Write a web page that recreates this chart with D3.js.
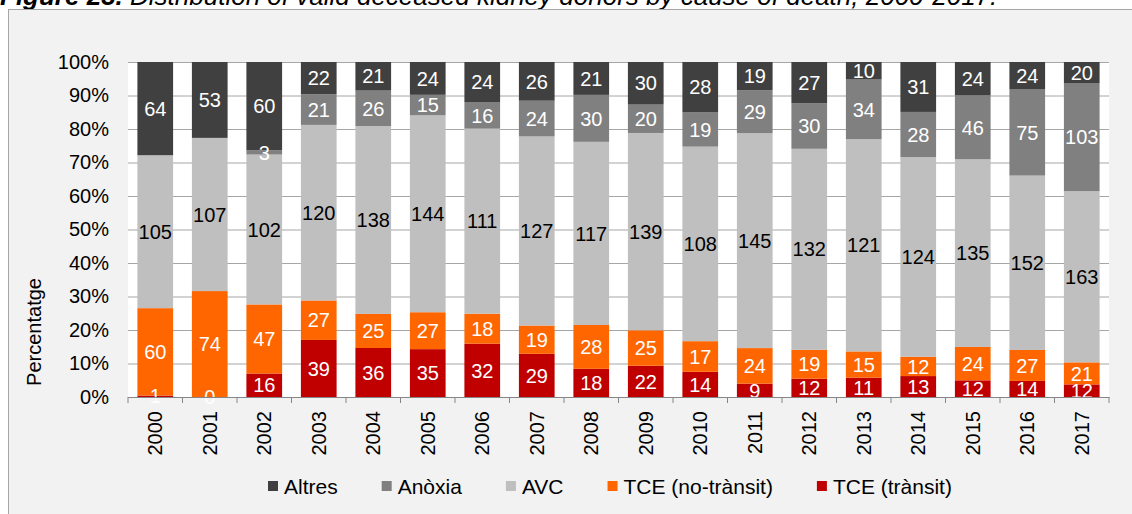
<!DOCTYPE html>
<html>
<head>
<meta charset="utf-8">
<script src="https://cdn.jsdelivr.net/npm/d3@7"></script>
<style>
    body { margin: 0; background: #fff; }
    svg { display: block; font-family: Arial, "Liberation Sans", sans-serif; }
</style>
</head>
<body>
<svg id="chart" width="1132" height="514"></svg>
<script>
// donors per cause of death and year (counts, shown as % of year total)
const years = ["2000", "2001", "2002", "2003", "2004", "2005", "2006", "2007", "2008",
    "2009", "2010", "2011", "2012", "2013", "2014", "2015", "2016", "2017"];
const altres = [64, 53, 60, 22, 21, 24, 24, 26, 21, 30, 28, 19, 27, 10, 31, 24, 24, 20];
const anoxia = [null, null, 3, 21, 26, 15, 16, 24, 30, 20, 19, 29, 30, 34, 28, 46, 75, 103];
const avc = [105, 107, 102, 120, 138, 144, 111, 127, 117, 139, 108, 145, 132, 121, 124, 135, 152, 163];
const tceNoTransit = [60, 74, 47, 27, 25, 27, 18, 19, 28, 25, 17, 24, 19, 15, 12, 24, 27, 21];
const tceTransit = [1, 0, 16, 39, 36, 35, 32, 29, 18, 22, 14, 9, 12, 11, 13, 12, 14, 12];
const yTicks = [0, 0.1, 0.2, 0.3, 0.4, 0.5, 0.6, 0.7, 0.8, 0.9, 1];

// stacking order, bottom to top
const series = [
    {key: "tceTransit", name: "TCE (trànsit)", values: tceTransit, color: "#c00000", text: "#fff"},
    {key: "tceNoTransit", name: "TCE (no-trànsit)", values: tceNoTransit, color: "#ff6600", text: "#fff"},
    {key: "avc", name: "AVC", values: avc, color: "#bfbfbf", text: "#000"},
    {key: "anoxia", name: "Anòxia", values: anoxia, color: "#808080", text: "#fff"},
    {key: "altres", name: "Altres", values: altres, color: "#404040", text: "#fff"}
];
const legendOrder = ["altres", "anoxia", "avc", "tceNoTransit", "tceTransit"];

const svg = d3.select("#chart");
const margins = {left: 128, right: 23, top: 62, bottom: 117};
const width = 1132 - margins.left - margins.right;
const height = 514 - margins.top - margins.bottom;

// title, only its lower part shows above the frame
const title = svg.append("text")
    .attr("x", 0)
    .attr("y", 5)
    .attr("font-size", 26)
    .attr("font-style", "italic")
    .attr("fill", "#000");
title.append("tspan").attr("font-weight", "bold").text("Figure 23.");
title.append("tspan").text(" Distribution of valid deceased kidney donors by cause of death, 2000-2017.");

svg.append("rect")
    .attr("x", 8.5)
    .attr("y", 9.5)
    .attr("width", 1140)
    .attr("height", 520)
    .attr("fill", "#f2f2f2")
    .attr("stroke", "#a6a6a6");

const rows = years.map((year, i) => {
    const row = {year};
    series.forEach(s => row[s.key] = s.values[i] || 0);
    return row;
});

const stacked = d3.stack()
    .keys(series.map(s => s.key))
    .offset(d3.stackOffsetExpand)(rows);

const scaleX = d3.scaleBand()
    .domain(years)
    .range([0, width])
    .paddingInner(0.345)
    .paddingOuter(0.1725);

const scaleY = d3.scaleLinear()
    .domain([0, 1])
    .range([height, 0]);

const g = svg.append("g")
    .attr("transform", `translate(${margins.left}, ${margins.top})`);

g.append("rect")
    .attr("width", width)
    .attr("height", height)
    .attr("fill", "#fff");

// y axis with grid lines
const yAxis = d3.axisLeft(scaleY)
    .tickValues(yTicks)
    .tickFormat(d3.format(".0%"))
    .tickSize(-width)
    .tickPadding(19);

g.append("g")
    .attr("class", "y-axis")
    .call(yAxis)
    .call(ax => ax.select(".domain").remove())
    .call(ax => ax.selectAll(".tick line").attr("stroke", "#a6a6a6"))
    .call(ax => ax.selectAll(".tick text")
        .attr("font-size", 20)
        .attr("fill", "#000")
        .attr("font-family", null));

// bars
const layers = g.append("g")
    .selectAll("g")
    .data(stacked)
    .join("g")
    .attr("fill", (d, i) => series[i].color);

layers.selectAll("rect")
    .data(d => d)
    .join("rect")
    .attr("x", d => scaleX(d.data.year))
    .attr("width", scaleX.bandwidth())
    .attr("y", d => scaleY(d[1]))
    .attr("height", d => scaleY(d[0]) - scaleY(d[1]));

// value labels in the middle of each segment
stacked.forEach((layer, i) => {
    const s = series[i];
    g.append("g")
        .selectAll("text")
        .data(layer.filter((d, j) => s.values[j] !== null))
        .join("text")
        .attr("x", d => scaleX(d.data.year) + scaleX.bandwidth() / 2)
        .attr("y", d => scaleY((d[0] + d[1]) / 2))
        .attr("dy", "0.36em")
        .attr("text-anchor", "middle")
        .attr("font-size", 20)
        .attr("fill", s.text)
        .text(d => d.data[s.key]);
});

// x axis
const xAxis = d3.axisBottom(scaleX).tickSize(0).tickPadding(14);

g.append("g")
    .attr("class", "x-axis")
    .attr("transform", `translate(0, ${height})`)
    .call(xAxis)
    .call(ax => ax.select(".domain").attr("stroke", "#868686"))
    .call(ax => ax.selectAll(".tick text")
        .attr("font-size", 20)
        .attr("fill", "#000")
        .attr("font-family", null)
        .attr("transform", "rotate(-90)")
        .attr("text-anchor", "end")
        .attr("x", -14)
        .attr("y", 0)
        .attr("dy", "0.35em"));

g.append("g")
    .selectAll("line")
    .data(d3.range(years.length + 1))
    .join("line")
    .attr("x1", i => i * scaleX.step())
    .attr("x2", i => i * scaleX.step())
    .attr("y1", height)
    .attr("y2", height + 6)
    .attr("stroke", "#868686");

svg.append("text")
    .attr("transform", "translate(41, 332) rotate(-90)")
    .attr("text-anchor", "middle")
    .attr("font-size", 20)
    .attr("fill", "#000")
    .text("Percentatge");

// legend
const legend = svg.append("g").attr("transform", "translate(268, 486)");
let offset = 0;
legendOrder.forEach(key => {
    const s = series.find(d => d.key === key);
    const item = legend.append("g").attr("transform", `translate(${offset}, 0)`);
    item.append("rect")
        .attr("y", -5)
        .attr("width", 10)
        .attr("height", 10)
        .attr("fill", s.color);
    const label = item.append("text")
        .attr("x", 16)
        .attr("dy", "0.36em")
        .attr("font-size", 21)
        .attr("fill", "#000")
        .text(s.name);
    offset += 16 + label.node().getComputedTextLength() + 44;
});
</script>
</body>
</html>
